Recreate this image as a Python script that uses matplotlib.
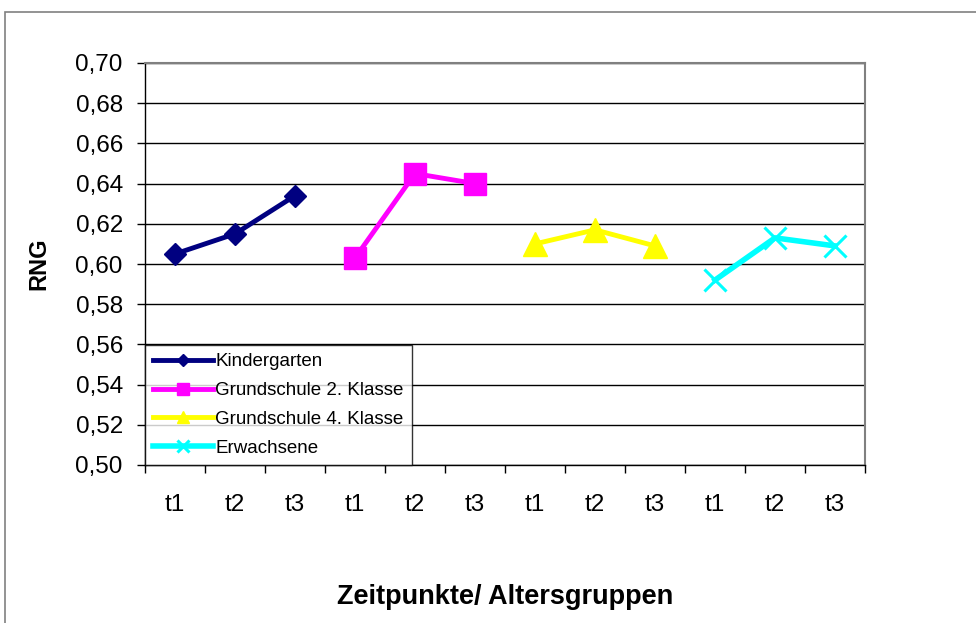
import numpy as np
import matplotlib.pyplot as plt
from matplotlib.patches import Rectangle

plt.rcParams['font.family'] = ['Liberation Sans', 'DejaVu Sans']

# ---------------- Data ----------------
tick_labels = ["t1", "t2", "t3"] * 4
series_names = ["Kindergarten", "Grundschule 2. Klasse", "Grundschule 4. Klasse", "Erwachsene"]
kindergarten = [0.605, 0.615, 0.634]
grundschule2 = [0.603, 0.645, 0.640]
grundschule4 = [0.610, 0.617, 0.609]
erwachsene = [0.592, 0.613, 0.609]

colors = ["#000080", "#FF00FF", "#FFFF00", "#00FFFF"]
markers = ["D", "s", "^", "x"]
msizes = [11, 16, 17, 16]

fig = plt.figure(figsize=(9.76, 6.23), dpi=100)
# outer chart-area border
fig.patches.append(Rectangle((5 / 976, -0.01), 1.0, 1 - 12 / 623 + 0.01, transform=fig.transFigure,
                             fill=False, edgecolor="#808080", lw=1.2))

ax = fig.add_axes([145 / 976, 1 - 465 / 623, 720 / 976, 402 / 623])

for i, (vals, name, c, m, ms) in enumerate(zip(
        [kindergarten, grundschule2, grundschule4, erwachsene], series_names, colors, markers, msizes)):
    x = np.arange(3) + 3 * i
    if m == "x":
        ax.plot(x, vals, color=c, lw=4, marker=m, ms=ms, mew=2.2, label=name, zorder=3)
    else:
        ax.plot(x, vals, color=c, lw=3.5, marker=m, ms=ms, mec=c, label=name, zorder=3)

yt = np.arange(0.50, 0.7001, 0.02)
ax.set_xlim(-0.5, 11.5)
ax.set_ylim(0.50, 0.70)
ax.set_yticks(yt)
ax.set_yticklabels([f"{v:.2f}".replace(".", ",") for v in yt], fontsize=17.5)
ax.grid(axis="y", color="black", lw=1)
ax.set_axisbelow(True)

ax.set_xticks(np.arange(12))
ax.set_xticklabels(tick_labels, fontsize=17.5)
ax.set_xticks(np.arange(-0.5, 12, 1), minor=True)
ax.tick_params(axis="x", which="major", length=0, pad=21)
ax.tick_params(axis="x", which="minor", length=6, width=1, color="black", direction="out")
ax.tick_params(axis="y", length=6, width=1, direction="out", pad=10)

for s in ["top", "right"]:
    ax.spines[s].set_color("#808080")
    ax.spines[s].set_linewidth(1.5)
for s in ["bottom", "left"]:
    ax.spines[s].set_color("black")
    ax.spines[s].set_linewidth(1)

ax.set_ylabel("RNG", fontsize=17, fontweight="bold", labelpad=18)
ax.set_xlabel("Zeitpunkte/ Altersgruppen", fontsize=19.5, fontweight="bold", labelpad=49)

leg = ax.legend(loc="lower left", bbox_to_anchor=(0, 0), fontsize=13.5, frameon=True, fancybox=False,
                borderaxespad=0, handlelength=3.2, handletextpad=0.1, borderpad=0.45, labelspacing=0.62,
                markerscale=0.55)
leg.get_frame().set_edgecolor("black")
leg.get_frame().set_linewidth(1)

fig.savefig("out.png", dpi=100)
